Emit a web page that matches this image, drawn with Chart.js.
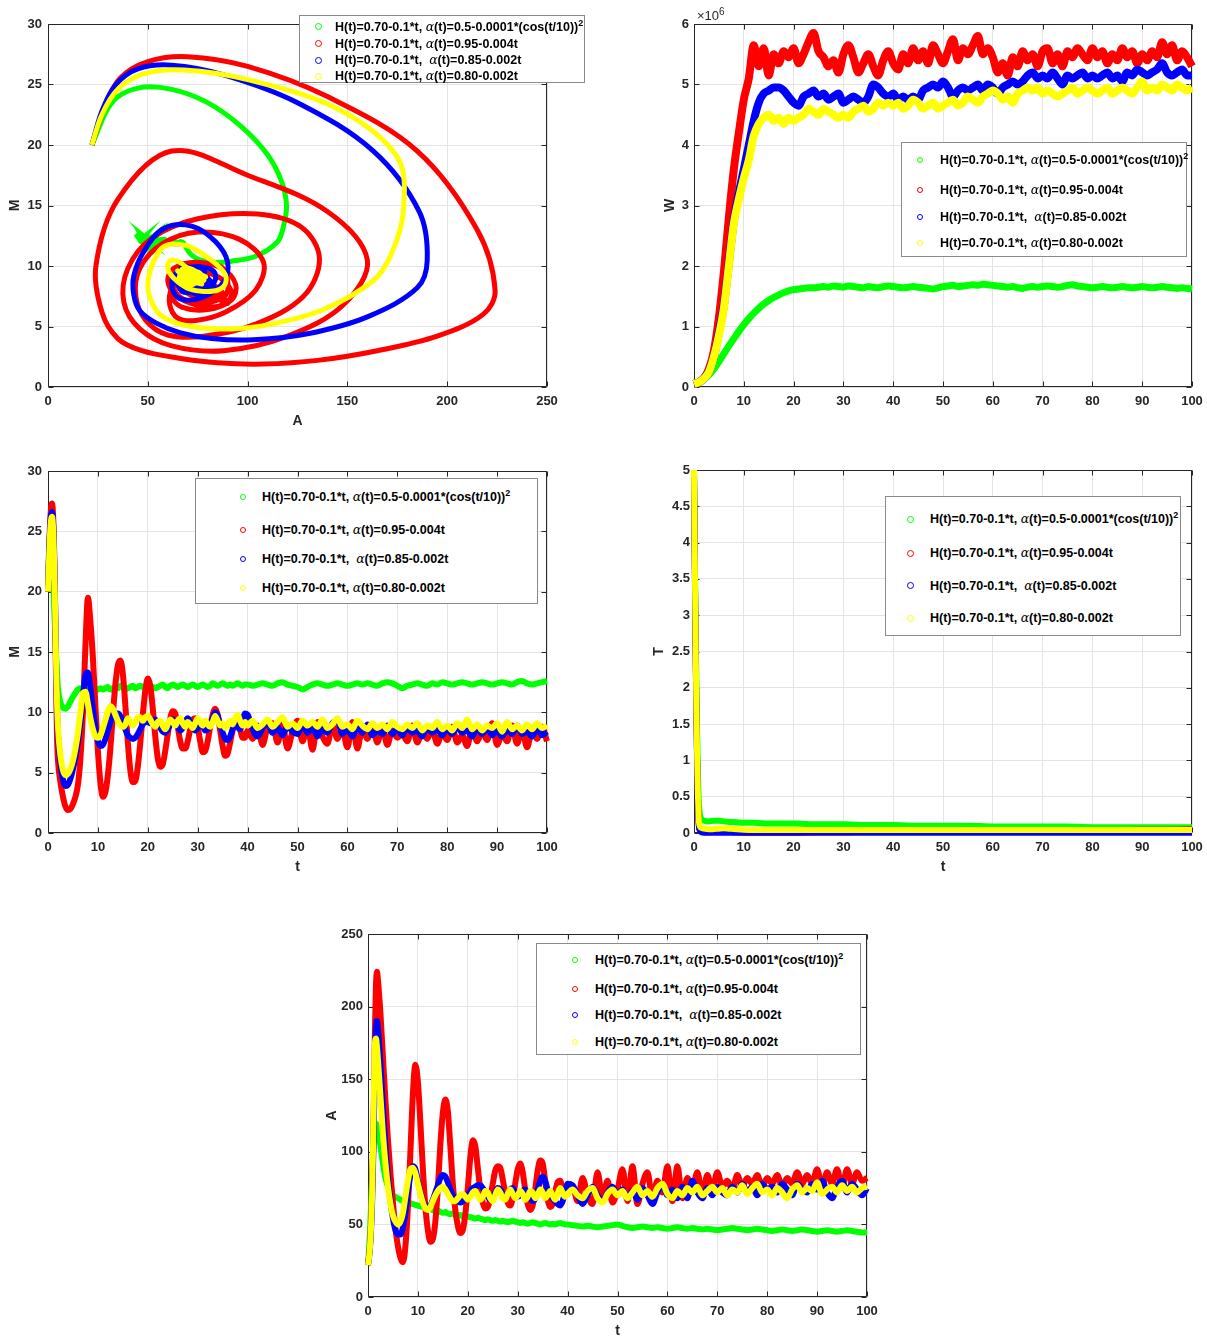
<!DOCTYPE html>
<html><head><meta charset="utf-8">
<script src="https://cdn.jsdelivr.net/npm/chart.js@4.4.1/dist/chart.umd.min.js"></script>
<style>
html,body{margin:0;padding:0;background:#fff;overflow:hidden;width:1207px;height:1337px;position:relative;}
canvas{position:absolute;}
.leg{position:absolute;border:1px solid #8a8a8a;background:#fff;box-sizing:border-box;}
.row{position:absolute;white-space:nowrap;font:bold 12.5px "Liberation Sans",Arial,sans-serif;color:#000;line-height:16px;}
.mk{position:absolute;border-radius:50%;border:1px solid;box-sizing:border-box;background:transparent;}
.al{font-family:"DejaVu Serif",serif;font-style:italic;font-weight:normal;}
.sp{font-size:9px;position:relative;top:-5px;}
.mult{position:absolute;font:13px "Liberation Sans",Arial,sans-serif;color:#262626;}
#warn{position:absolute;left:5px;top:1300px;color:#c00;font:12px monospace;}
</style></head><body>
<div id="warn"></div>
<script>
// ---------- time grid for M and A (t) ----------
const tAM = [0,0.2,0.4,0.6,0.8,1,1.2,1.4,1.6,1.8,2,
2.5,3,3.5,4,4.5,5,5.5,6,6.5,7,7.5,8,8.5,9,9.5,10,10.5,11,11.5,12,12.5,13,13.5,14,14.5,15,15.5,16,16.5,17,17.5,18,18.5,19,19.5,20,20.5,21,21.5,22,22.5,23,23.5,24,24.5,25,25.5,26,26.5,27,27.5,28,28.5,29,29.5,30,30.5,31,31.5,32,32.5,33,33.5,34,34.5,35,35.5,36,36.5,37,37.5,38,38.5,39,39.5,40,
41,42,43,44,45,46,47,48,49,50,51,52,53,54,55,56,57,58,59,60,61,62,63,64,65,66,67,68,69,70,71,72,73,74,75,76,77,78,79,80,81,82,83,84,85,86,87,88,89,90,91,92,93,94,95,96,97,98,99,100];

// M(t)
const greenM = [20,23.5,24.7,24.6,23.5,21.5,19.2,17.0,15.0,13.3,12.0,
10.8,10.4,10.3,10.5,10.9,11.3,11.6,11.9,12.0,12.0,
11.9,11.8,11.9,12.0,11.8,11.9,12.0,11.9,12.0,12.1,
11.9,12.0,12.1,12.0,12.2,12.1,11.9,12.0,12.1,12.2,
12.0,12.1,12.2,12.1,12.0,12.1,12.2,12.1,12.0,12.1,
12.2,12.3,12.1,12.0,12.2,12.3,12.2,12.1,12.2,12.3,
12.2,12.1,12.2,12.3,12.2,12.1,12.2,12.3,12.2,12.1,
12.2,12.4,12.3,12.2,12.3,12.4,12.3,12.2,12.3,12.2,
12.3,12.4,12.3,12.2,12.3,12.3,
12.2,12.3,12.4,12.3,12.2,12.4,12.5,12.3,12.2,12.1,
11.9,12.1,12.3,12.4,12.3,12.2,12.3,12.4,12.3,12.2,
12.3,12.4,12.3,12.4,12.3,12.2,12.4,12.5,12.4,12.2,
12.0,12.2,12.3,12.4,12.3,12.2,12.4,12.3,12.5,12.4,
12.3,12.4,12.5,12.4,12.3,12.4,12.5,12.4,12.3,12.4,
12.5,12.4,12.3,12.5,12.6,12.4,12.3,12.4,12.5,12.6];
const redM = [20,23,25.5,26.9,27.3,26.5,24,19.5,13,8,6,
4.2,3.0,2.2,1.9,2.0,2.4,3.0,4.0,6.2,10.0,
15.5,19.5,17.5,14.5,10.5,6.8,4.2,3.0,3.4,4.8,
7.0,9.8,12.3,13.9,14.3,13.2,10.6,7.5,5.2,4.2,
4.3,5.5,7.5,9.8,11.8,12.8,12.2,10.3,8.0,6.2,
5.5,5.7,6.8,8.2,9.5,10.1,9.9,8.8,7.6,7.0,
7.0,7.6,8.6,9.4,9.5,8.8,7.6,6.7,6.8,7.6,
8.8,9.8,10.3,9.8,8.5,7.2,6.4,6.6,7.5,8.5,
9.1,9.2,8.6,7.9,7.9,8.5,
7.8,8.9,7.3,8.8,9.1,7.5,9.0,7.0,8.4,9.3,
7.6,8.9,6.9,9.2,8.0,7.4,9.0,7.8,8.6,7.1,
9.2,7.0,8.7,7.8,9.0,7.5,8.8,7.3,8.5,7.9,
8.2,7.6,8.9,7.5,8.4,7.8,8.6,7.4,8.3,7.7,
8.8,7.5,8.1,7.2,8.7,7.6,8.4,7.7,9.1,7.3,
8.2,7.6,8.9,7.4,8.6,7.1,8.4,7.8,8.8,7.6];
const blueM = [20,22.8,25,26.3,26.6,25.8,23.5,19.5,14.5,10.5,8.2,
5.8,4.4,3.9,4.0,4.5,5.3,6.3,7.6,9.2,11.2,
13.1,13.3,12.0,10.3,8.7,7.6,7.2,7.3,7.8,8.5,
9.2,9.7,9.9,9.9,9.7,9.2,8.6,8.1,7.9,7.8,
7.9,8.2,8.6,9.0,9.2,9.2,9.1,9.2,9.4,9.1,
8.7,8.4,8.3,8.6,9.0,9.4,9.2,8.8,8.5,8.7,
9.2,9.5,9.2,8.8,8.5,8.7,9.1,8.9,8.5,8.6,
9.0,9.5,10.0,9.7,9.0,8.3,7.8,7.7,8.0,8.6,
9.0,8.8,8.6,9.3,9.9,9.8,
8.6,8.0,8.7,9.2,8.3,8.8,8.1,8.9,8.4,8.2,
9.0,8.3,8.8,8.0,8.6,8.3,9.1,9.3,8.2,8.6,
8.0,8.9,8.3,9.0,8.1,8.5,8.2,8.9,8.2,8.6,
8.1,8.8,8.3,8.5,8.0,8.8,8.3,8.6,8.1,8.7,
8.2,8.9,8.3,8.5,8.0,8.7,8.2,8.8,8.1,8.5,
8.0,8.6,8.2,8.9,8.2,8.4,8.0,8.7,8.1,8.4];
const yellowM = [20,22.5,24.6,25.9,26.2,25.4,23.0,19.0,14.5,11.0,8.8,
6.4,5.2,4.8,4.9,5.3,6.0,7.0,8.3,10.0,11.6,
11.7,10.7,9.5,8.6,8.0,7.9,8.1,8.7,9.4,10.1,
10.5,10.3,9.8,9.3,8.9,8.8,9.0,9.5,9.2,8.9,
9.2,9.6,9.6,9.3,9.6,9.7,9.4,9.0,8.8,9.2,
9.3,8.9,8.6,9.0,9.4,9.2,8.9,9.3,9.5,9.1,
8.8,9.2,9.0,8.7,9.1,9.5,9.2,8.9,9.3,9.0,
8.8,9.2,9.7,9.3,8.9,9.1,8.7,8.9,9.3,9.0,
9.5,9.8,9.3,8.9,9.2,8.9,
9.3,8.7,9.0,9.4,8.8,9.2,9.6,8.8,9.1,8.7,
9.3,8.9,9.2,8.8,9.4,8.7,9.0,9.5,8.8,9.0,
8.6,9.3,8.9,8.6,9.1,8.7,9.0,8.6,9.2,8.8,
8.6,9.0,8.7,9.1,8.5,8.9,8.7,9.2,8.6,8.9,
8.5,9.1,8.7,9.4,8.6,9.0,8.5,8.9,8.7,9.1,
8.4,9.2,8.6,8.9,8.5,9.0,8.6,9.1,8.7,8.9];

// A(t)
const greenA = [22,32,45,62,80,97,110,117,119.5,118,115,
104,92,82,76,72,70,69,68,67,66,
65.5,65,64.5,64,63.5,63,62.5,62,61.5,61,
60.5,60,59,59.5,58.5,58,58.5,57.5,57,57.5,
56.5,56,56.5,55.5,55,55.5,55,54.5,54,54.5,
54,53.5,53,53.5,53,52.5,53,52.5,52,52.5,
52,51.5,52,52.5,52,51.5,51,51.5,51,50.5,
51,51.5,51,50.5,50,50.5,51,50.5,50,50.5,
50,50.5,51,50.5,50,50,
49.5,49,48.5,49,48.5,48,48.5,49,49.5,50,
49,48,47.5,48,48.5,48,47.5,48,47.5,47,
47.5,48,47.5,47,47.5,47,46.5,47,46.5,46,
46.5,47,47.5,47,46.5,46,46.5,47,46.5,46,
45.5,46,46.5,46,45.5,46,46.5,46,45.5,45,
45.5,46,45.5,45,45.5,46,45.5,45,44.5,44.5];
const redA = [22,28,36,50,70,100,140,185,215,224,218,
195,165,135,108,85,65,47,35,27,24,
35,62,100,140,160,148,120,88,62,46,
38,40,52,75,105,127,136,128,104,78,
60,49,44,46,57,75,96,108,104,89,
74,65,61,62,68,78,87,90,89,81,
72,65,63,68,78,88,92,86,74,64,
60,63,74,87,94,92,80,67,62,64,
72,79,80,75,70,71,
76,66,82,70,64,86,68,80,65,74,
88,66,90,64,78,86,68,80,72,90,
66,90,68,82,74,86,70,84,74,86,
76,80,74,84,76,82,78,84,76,82,
78,84,76,82,78,86,78,84,78,88,
76,86,78,88,76,88,78,86,80,82];
const blueA = [22,27,34,45,62,88,125,163,186,190,185,
160,130,103,82,66,54,46,43,43,48,
58,72,84,90,88,80,72,66,63,62,
63,67,72,77,82,84,83,79,74,70,
67,66,65,66,68,70,73,75,76,77,
77,75,72,69,67,68,72,75,74,71,
68,70,74,75,72,69,70,73,74,71,
68,66,68,74,80,83,80,74,70,68,
66,64,63,66,72,78,
77,70,64,70,76,70,66,72,76,70,
74,68,73,67,75,70,64,72,78,70,
74,68,76,68,80,72,68,75,70,76,
72,70,76,72,78,72,76,70,78,74,
76,72,78,74,70,78,74,72,78,74,
80,72,68,76,80,72,78,74,70,75];
const yellowA = [22,27,35,48,68,100,145,175,178,172,163,
138,112,92,76,64,56,52,50,52,58,
69,80,88,89,85,78,71,65,61,60,
62,66,70,73,75,76,74,71,68,66,
66,68,70,71,69,67,69,72,73,70,
67,69,73,72,68,66,70,74,72,68,
67,71,74,71,68,70,73,71,67,69,
73,72,68,70,74,72,68,70,73,70,
67,71,75,72,69,71,
74,70,68,73,75,68,65,71,74,70,
73,68,72,76,70,73,69,75,78,71,
68,73,70,75,72,76,70,73,76,72,
75,70,74,72,77,71,75,78,72,74,
70,75,72,68,74,77,72,75,73,79,
71,74,76,72,77,73,76,72,75,76];

// ---------- W(t), in units of 10^6 ----------
const tW = [0,1,2,3,4,5,6,7,8,9,10,11,12,13,14,15,16,17,18,19,20,21,22,23,24,25,26,27,28,29,30,31,32,33,34,35,36,37,38,39,40,41,42,43,44,45,46,47,48,49,50,51,52,53,54,55,56,57,58,59,60,61,62,63,64,65,66,67,68,69,70,71,72,73,74,75,76,77,78,79,80,81,82,83,84,85,86,87,88,89,90,91,92,93,94,95,96,97,98,99,100];
const greenW = [0.05,0.08,0.13,0.2,0.3,0.42,0.55,0.68,0.8,0.92,1.03,1.13,1.22,1.3,1.37,1.43,1.48,1.52,1.56,1.59,1.61,1.62,1.63,1.64,1.64,1.65,
1.66,1.65,1.67,1.66,1.65,1.67,1.66,1.65,1.64,1.66,1.65,1.64,1.66,1.67,1.66,1.65,1.64,1.65,1.66,1.65,1.64,1.63,1.62,1.64,1.66,1.67,1.68,1.66,1.67,1.68,1.69,1.68,1.70,1.69,1.68,1.67,1.66,1.65,1.66,1.64,1.63,1.65,1.66,1.65,1.66,1.67,1.66,1.65,1.66,1.68,1.69,1.67,1.66,1.65,1.64,1.65,1.66,1.65,1.64,1.65,1.66,1.65,1.64,1.65,1.66,1.65,1.64,1.65,1.66,1.65,1.64,1.63,1.64,1.63,1.62];
const redW = [0.05,0.08,0.15,0.3,0.6,1.15,1.9,2.8,3.6,4.2,4.75,5.1,5.65,
5.3,5.6,5.15,5.5,5.35,5.55,5.45,5.6,5.35,5.5,5.7,5.85,5.55,5.45,5.3,5.4,5.2,5.5,5.65,5.45,5.2,5.35,5.5,5.3,5.15,5.4,5.55,5.35,5.25,5.5,5.35,5.6,5.4,5.55,5.35,5.65,5.5,5.35,5.55,5.75,5.4,5.6,5.5,5.65,5.8,5.5,5.6,5.45,5.2,5.35,5.15,5.45,5.3,5.55,5.4,5.5,5.3,5.55,5.6,5.35,5.5,5.3,5.55,5.45,5.6,5.5,5.4,5.6,5.45,5.55,5.35,5.5,5.4,5.6,5.45,5.55,5.35,5.5,5.4,5.55,5.45,5.7,5.5,5.65,5.4,5.55,5.45,5.3];
const blueW = [0.05,0.08,0.14,0.26,0.5,0.9,1.35,2.05,2.75,3.2,3.6,4.0,4.4,4.7,4.85,4.9,4.95,4.95,4.9,4.8,4.7,
4.65,4.8,4.85,4.9,4.8,4.85,4.75,4.8,4.85,4.7,4.75,4.8,4.75,4.7,4.8,5.0,4.95,4.85,4.8,4.85,4.75,4.8,4.75,4.8,4.75,4.9,4.95,5.0,4.95,5.05,4.95,4.8,4.9,4.95,4.9,4.95,5.0,4.9,5.0,4.95,4.85,4.95,5.0,5.05,5.0,5.05,5.15,5.2,5.1,5.15,5.1,5.2,5.1,5.0,5.15,5.1,5.15,5.2,5.1,5.15,5.1,5.15,5.2,5.1,5.15,5.05,5.2,5.15,5.25,5.2,5.15,5.2,5.25,5.35,5.2,5.15,5.2,5.25,5.15,5.15];
const yellowW = [0.05,0.08,0.14,0.25,0.5,0.85,1.3,2.0,2.7,3.1,3.45,3.75,4.15,4.35,4.45,4.5,4.4,4.45,4.35,4.45,4.4,
4.45,4.5,4.6,4.55,4.5,4.6,4.55,4.5,4.45,4.5,4.45,4.55,4.6,4.65,4.55,4.6,4.7,4.65,4.7,4.65,4.7,4.6,4.65,4.75,4.7,4.6,4.65,4.7,4.6,4.65,4.7,4.75,4.65,4.7,4.8,4.75,4.7,4.8,4.85,4.9,4.85,4.75,4.8,4.7,4.85,4.9,4.95,4.9,4.95,4.85,4.9,4.85,4.8,4.85,4.9,4.95,4.85,4.9,4.95,4.9,4.85,4.9,4.95,4.85,4.9,4.95,4.9,4.85,4.95,5.05,4.9,4.95,4.9,5.0,4.95,4.9,5.0,4.95,4.9,4.95];

// ---------- T(t) ----------
const tT = [0,0.1,0.2,0.3,0.4,0.5,0.6,0.7,0.8,0.9,1,1.2,1.5,2,3,4,5,6,7,8,10,12,15,20,25,30,35,40,45,50,55,60,65,70,75,80,85,90,95,100];
const greenT = [5,4.3,3.6,3.0,2.45,1.95,1.5,1.1,0.8,0.55,0.38,0.25,0.19,0.17,0.16,0.17,0.17,0.16,0.15,0.15,0.14,0.14,0.13,0.13,0.12,0.12,0.11,0.11,0.10,0.10,0.10,0.09,0.09,0.09,0.09,0.08,0.08,0.08,0.08,0.08];
const redT = [5,4.2,3.4,2.7,2.1,1.55,1.1,0.7,0.4,0.2,0.09,0.04,0.02,0.01,0.01,0.015,0.02,0.02,0.015,0.01,0.005,0.005,0.005,0.005,0.01,0.01,0.015,0.015,0.02,0.02,0.025,0.03,0.03,0.035,0.035,0.04,0.04,0.045,0.045,0.05];
const blueT = [5,4.2,3.4,2.7,2.1,1.55,1.1,0.7,0.4,0.2,0.08,0.03,0.01,0.005,0.003,0.003,0.004,0.004,0.003,0.002,0.002,0.002,0.002,0.002,0.002,0.002,0.002,0.002,0.002,0.002,0.002,0.002,0.002,0.002,0.002,0.002,0.002,0.002,0.002,0.002];
const yellowT = [5,4.25,3.5,2.8,2.2,1.65,1.2,0.8,0.5,0.28,0.15,0.09,0.07,0.06,0.05,0.055,0.06,0.065,0.06,0.055,0.045,0.04,0.04,0.04,0.04,0.04,0.04,0.04,0.04,0.04,0.04,0.04,0.04,0.04,0.04,0.04,0.04,0.04,0.04,0.04];

// ---------- legend labels ----------
const legendLabels = [
 'H(t)=0.70-0.1*t, <span class="al">α</span>(t)=0.5-0.0001*(cos(t/10))<span class="sp">2</span>',
 'H(t)=0.70-0.1*t, <span class="al">α</span>(t)=0.95-0.004t',
 'H(t)=0.70-0.1*t,&nbsp; <span class="al">α</span>(t)=0.85-0.002t',
 'H(t)=0.70-0.1*t, <span class="al">α</span>(t)=0.80-0.002t'
];
const colors = ['#00ff00','#ff0000','#0000ff','#ffff00'];

// ---------- length check ----------
const warn=[];
[['greenM',greenM],['redM',redM],['blueM',blueM],['yellowM',yellowM],['greenA',greenA],['redA',redA],['blueA',blueA],['yellowA',yellowA]].forEach(([n,a])=>{if(a.length!==tAM.length)warn.push(n+':'+a.length+'/'+tAM.length);});
[['greenW',greenW],['redW',redW],['blueW',blueW],['yellowW',yellowW]].forEach(([n,a])=>{if(a.length!==tW.length)warn.push(n+':'+a.length+'/'+tW.length);});
[['greenT',greenT],['redT',redT],['blueT',blueT],['yellowT',yellowT]].forEach(([n,a])=>{if(a.length!==tT.length)warn.push(n+':'+a.length+'/'+tT.length);});
document.getElementById('warn').textContent = warn.join('  ');

const FONT='"Liberation Sans", Arial, sans-serif';
const boxPlugin = {
  id:'mbox',
  beforeDatasetsDraw(chart){
    const {ctx, chartArea:a, scales} = chart;
    const l=Math.round(a.left)+0.5, r=Math.round(a.right)-0.5, t=Math.round(a.top)+0.5, b=Math.round(a.bottom)-0.5;
    ctx.save();
    ctx.strokeStyle='#262626'; ctx.lineWidth=1;
    ctx.beginPath();
    ctx.rect(l,t,r-l,b-t);
    const tl=5;
    scales.x.ticks.forEach(tk=>{const p=Math.round(scales.x.getPixelForValue(tk.value))+0.5; ctx.moveTo(p,b); ctx.lineTo(p,b-tl); ctx.moveTo(p,t); ctx.lineTo(p,t+tl);});
    scales.y.ticks.forEach(tk=>{const p=Math.round(scales.y.getPixelForValue(tk.value))+0.5; ctx.moveTo(l,p); ctx.lineTo(l+tl,p); ctx.moveTo(r,p); ctx.lineTo(r-tl,p);});
    ctx.stroke();
    ctx.restore();
  }
};

function series(xs, ys, i, opts){
  return Object.assign({
    data: xs.map((x,k)=>({x:x, y:ys[k]})),
    showLine:true, pointRadius:0, borderColor:colors[i], backgroundColor:colors[i],
    borderWidth:6, cubicInterpolationMode:'monotone', order:4-i, clip:5
  }, opts||{});
}
const fmt = v => String(+(+v).toFixed(2));

function makeChart(cfg){
  const padTop=18, padRight=24, xh=43;
  const cl=cfg.L-cfg.yw, ct=cfg.T-padTop;
  const w=cfg.R+padRight-cl, h=cfg.B+xh-ct;
  const cv=document.createElement('canvas');
  cv.width=w; cv.height=h;
  cv.style.left=cl+'px'; cv.style.top=ct+'px'; cv.style.width=w+'px'; cv.style.height=h+'px';
  document.body.appendChild(cv);
  const tickFont={family:FONT,size:13,weight:'bold'};
  const titleFont={family:FONT,size:14,weight:'bold'};
  new Chart(cv.getContext('2d'),{
    type:'scatter',
    data:{datasets:cfg.datasets},
    options:{
      animation:false, responsive:false, devicePixelRatio:1, events:[],
      layout:{padding:{top:padTop,right:padRight,left:0,bottom:0}},
      plugins:{legend:{display:false},tooltip:{enabled:false}},
      scales:{
        x:{type:'linear',position:'bottom',min:cfg.xmin,max:cfg.xmax,
           ticks:{stepSize:cfg.xstep,color:'#262626',font:tickFont,padding:7,maxRotation:0,autoSkip:false,callback:fmt},
           grid:{color:'#e4e4e4',drawTicks:false},border:{display:false},
           title:{display:!!cfg.xt,text:cfg.xt||'',color:'#262626',font:titleFont,padding:0},
           afterFit(s){s.height=xh;}},
        y:{type:'linear',position:'left',min:cfg.ymin,max:cfg.ymax,
           ticks:{stepSize:cfg.ystep,color:'#262626',font:tickFont,padding:cfg.yp,callback:fmt},
           grid:{color:'#e4e4e4',drawTicks:false},border:{display:false},
           title:{display:true,text:cfg.yt,color:'#262626',font:titleFont,padding:0},
           afterFit(s){s.width=cfg.yw;}}
      }
    },
    plugins:[boxPlugin]
  });
}

function legend(box, mx, tx, rows, r){
  const d=document.createElement('div');
  d.className='leg';
  d.style.left=box[0]+'px'; d.style.top=box[1]+'px';
  d.style.width=(box[2]-box[0])+'px'; d.style.height=(box[3]-box[1])+'px';
  document.body.appendChild(d);
  rows.forEach((y,i)=>{
    const m=document.createElement('div');
    m.className='mk';
    m.style.left=(mx-r)+'px'; m.style.top=(y-r)+'px';
    m.style.width=(2*r)+'px'; m.style.height=(2*r)+'px';
    m.style.borderColor=colors[i];
    document.body.appendChild(m);
    const t=document.createElement('div');
    t.className='row';
    t.style.left=tx+'px'; t.style.top=(y-8)+'px';
    t.innerHTML=legendLabels[i];
    document.body.appendChild(t);
  });
}

// 1) phase plot M vs A
const phaseA=[greenA,redA,blueA,yellowA], phaseM=[greenM,redM,blueM,yellowM];
makeChart({L:48,R:547,T:24,B:387,yw:41,yp:6,xmin:0,xmax:250,xstep:50,ymin:0,ymax:30,ystep:5,xt:'A',yt:'M',
  datasets:[0,1,2,3].map(i=>series(phaseA[i],phaseM[i],i,{cubicInterpolationMode:'default',tension:0.35,borderWidth:5}))
});
// 2) W vs t
makeChart({L:694,R:1192,T:24,B:387,yw:32,yp:5,xmin:0,xmax:100,xstep:10,ymin:0,ymax:6,ystep:1,xt:'',yt:'W',
  datasets:[series(tW,greenW,0,{borderWidth:7}),series(tW,redW,1,{borderWidth:8}),series(tW,blueW,2,{borderWidth:8}),series(tW,yellowW,3,{borderWidth:8})]});
// 3) M vs t
makeChart({L:48,R:547,T:471,B:833,yw:41,yp:6,xmin:0,xmax:100,xstep:10,ymin:0,ymax:30,ystep:5,xt:'t',yt:'M',
  datasets:[series(tAM,greenM,0),series(tAM,redM,1),series(tAM,blueM,2),series(tAM,yellowM,3)]});
// 4) T vs t
makeChart({L:694,R:1192,T:470,B:833,yw:43,yp:4,xmin:0,xmax:100,xstep:10,ymin:0,ymax:5,ystep:0.5,xt:'t',yt:'T',
  datasets:[series(tT,greenT,0),series(tT,redT,1),series(tT,blueT,2),series(tT,yellowT,3)]});
// 5) A vs t
makeChart({L:368,R:867,T:934,B:1297,yw:44,yp:5,xmin:0,xmax:100,xstep:10,ymin:0,ymax:250,ystep:50,xt:'t',yt:'A',
  datasets:[series(tAM,greenA,0),series(tAM,redA,1),series(tAM,blueA,2),series(tAM,yellowA,3)]});

// x10^6 multiplier
const mu=document.createElement('div');
mu.className='mult'; mu.style.left='697px'; mu.style.top='8px';
mu.innerHTML='×10<span style="font-size:10px;position:relative;top:-5px">6</span>';
document.body.appendChild(mu);

// legends
legend([299,15,585,83],318,335,[26.5,43.5,60,76],3.5);
legend([901,142,1187,257],920,940,[160,190,216.5,242.5],3);
legend([195,478,538,604],243,262,[497,529.5,558.5,588],3);
legend([885,496,1181,636],910,930,[519,553,585.5,618],3.5);
legend([536,943,861,1055],575,595,[960,989,1015,1041.5],3);
</script>
</body></html>
